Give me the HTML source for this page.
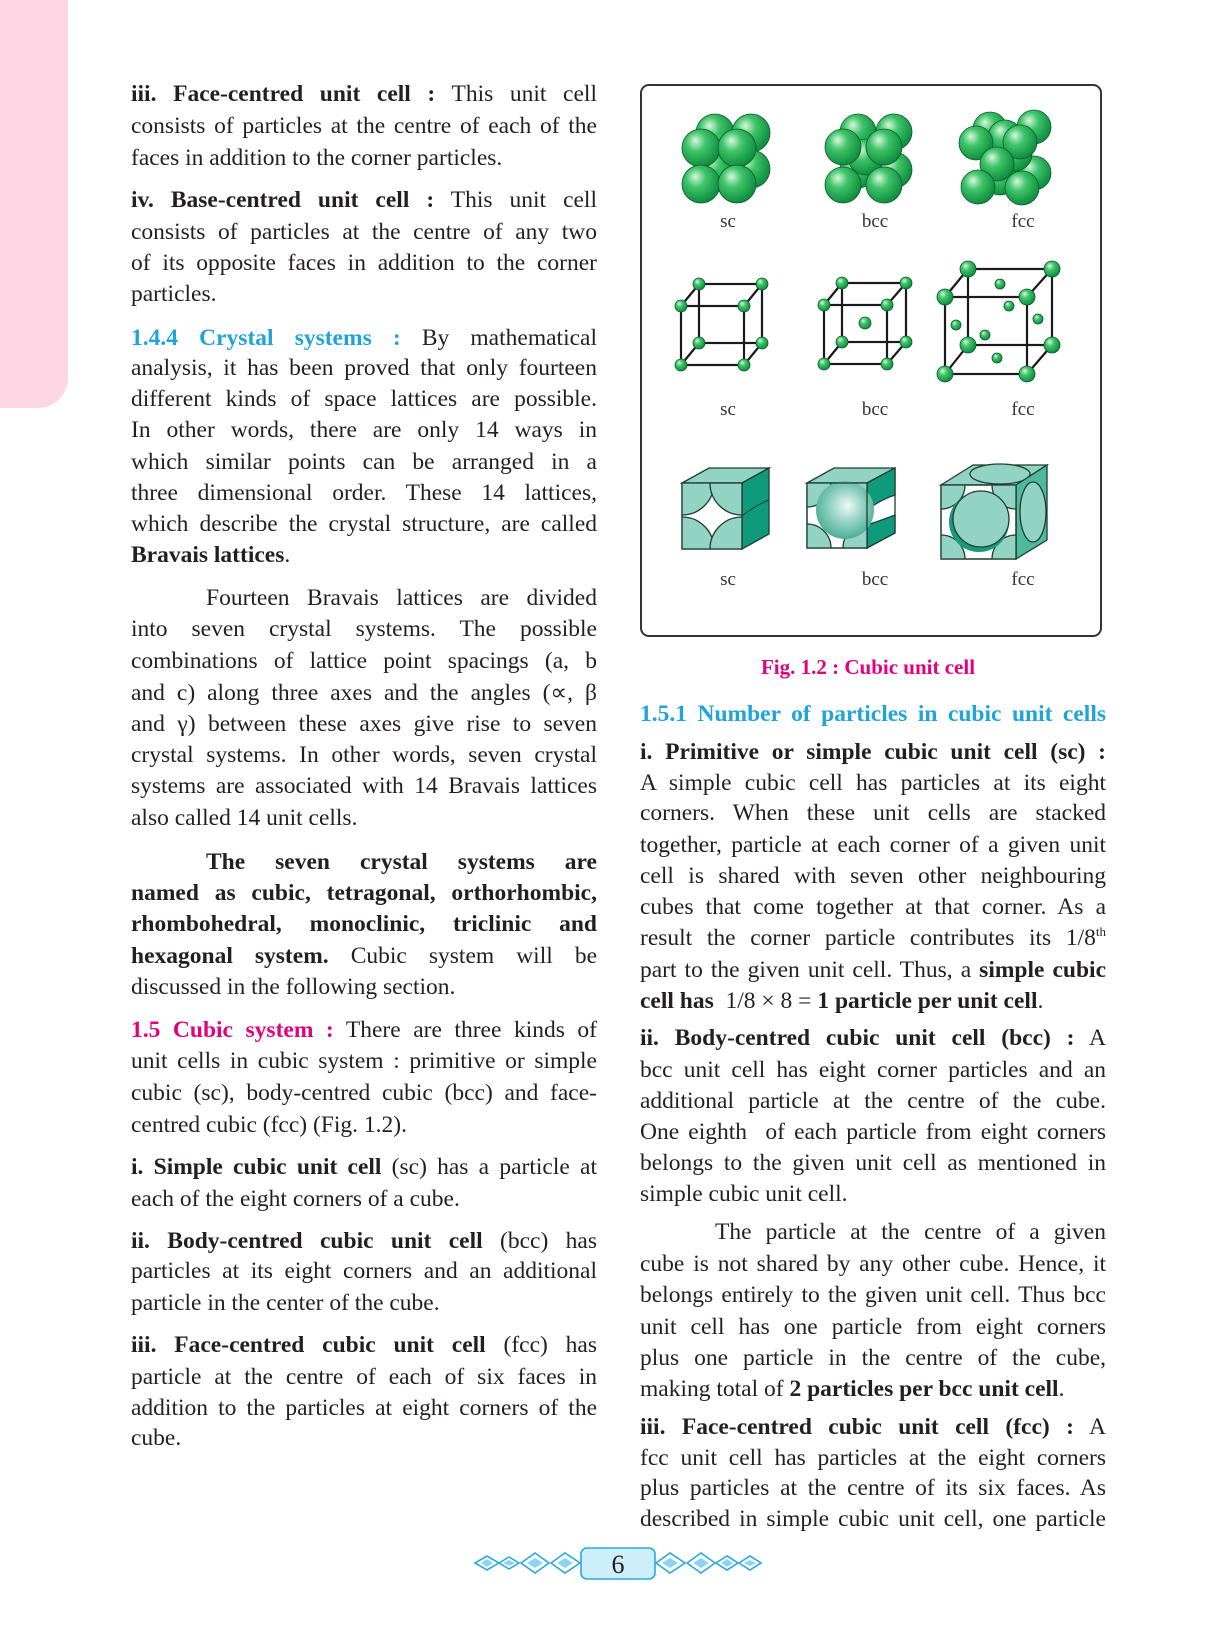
<!DOCTYPE html>
<html><head><meta charset="utf-8">
<style>
html,body{margin:0;padding:0;background:#fff;}
body{width:1229px;height:1643px;position:relative;overflow:hidden;font-family:"Liberation Serif",serif;color:#231f20;}
.ln{position:absolute;height:32px;line-height:32px;font-size:23.5px;white-space:nowrap;transform-origin:0 50%;}
.j{text-align:justify;text-align-last:justify;}
.l{text-align:left;}
.blue{color:#1fa3dc;font-weight:bold;}
.mag{color:#e4007c;font-weight:bold;}
sup{font-size:13px;line-height:0;}
#pink{position:absolute;left:0;top:0;width:68px;height:408px;background:#fdd7e4;border-bottom-right-radius:30px;}
#figbox{position:absolute;left:640px;top:84px;width:462px;height:553px;border:2px solid #333;border-radius:9px;box-sizing:border-box;}
svg{position:absolute;left:0;top:0;}
</style></head>
<body>
<div id="pink"></div>
<div id="figbox"></div>
<div id="left"></div>
<div id="right"></div>

<svg width="1229" height="1643" viewBox="0 0 1229 1643">
<defs>
<radialGradient id="gs" cx="0.4" cy="0.38" r="0.65" fx="0.35" fy="0.3">
<stop offset="0" stop-color="#d8f7dc"/><stop offset="0.4" stop-color="#3fc46a"/><stop offset="1" stop-color="#0b8a3c"/></radialGradient>
<radialGradient id="gt" cx="0.5" cy="0.45" r="0.6" fx="0.55" fy="0.42">
<stop offset="0" stop-color="#eefaf6"/><stop offset="0.5" stop-color="#8fd0bf"/><stop offset="1" stop-color="#3ea88e"/></radialGradient>
<clipPath id="c1"><rect x="682" y="483" width="60" height="66"/></clipPath>
<clipPath id="c2"><rect x="807" y="483" width="60" height="65"/></clipPath>
<clipPath id="c3"><rect x="941" y="485" width="75" height="74"/></clipPath>
</defs>
<g stroke="#0d5a2a" stroke-width="0.8" fill="url(#gs)">
<circle cx="715" cy="133" r="19"/><circle cx="751" cy="133" r="19"/><circle cx="715" cy="169" r="19"/><circle cx="751" cy="169" r="19"/>
<circle cx="701" cy="148" r="19"/><circle cx="737" cy="148" r="19"/><circle cx="701" cy="184" r="19"/><circle cx="737" cy="184" r="19"/>
<circle cx="858" cy="132" r="18"/><circle cx="894" cy="132" r="18"/><circle cx="858" cy="170" r="18"/><circle cx="894" cy="170" r="18"/>
<circle cx="866" cy="157" r="18"/>
<circle cx="843" cy="147" r="18"/><circle cx="884" cy="147" r="18"/><circle cx="843" cy="185" r="18"/><circle cx="884" cy="185" r="18"/>
<circle cx="990" cy="129" r="17"/><circle cx="1034" cy="127" r="17"/><circle cx="1034" cy="173" r="17"/><circle cx="1000" cy="178" r="17"/>
<circle cx="1015" cy="154" r="17"/><circle cx="1005" cy="137" r="17"/>
<circle cx="976" cy="143" r="17"/><circle cx="1020" cy="142" r="17"/><circle cx="997" cy="164" r="17"/><circle cx="978" cy="187" r="17"/><circle cx="1022" cy="188" r="17"/>
</g>
<g stroke="#1a1a1a" stroke-width="2.2" fill="none">
<rect x="699" y="284" width="63" height="59"/><rect x="681" y="306" width="63" height="59"/>
<path d="M681 306L699 284M744 306L762 284M681 365L699 343M744 365L762 343"/>
<rect x="842" y="283" width="64" height="59"/><rect x="824" y="305" width="63" height="59"/>
<path d="M824 305L842 283M887 305L906 283M824 364L842 342M887 364L906 342"/>
<rect x="968" y="269" width="84" height="76"/><rect x="945" y="297" width="82" height="77"/>
<path d="M945 297L968 269M1027 297L1052 269M945 374L968 345M1027 374L1052 345"/>
</g>
<g stroke="#0d5a2a" stroke-width="0.8" fill="url(#gs)">
<circle cx="699" cy="284" r="6"/><circle cx="762" cy="284" r="6"/><circle cx="699" cy="343" r="6"/><circle cx="762" cy="343" r="6"/>
<circle cx="681" cy="306" r="6"/><circle cx="744" cy="306" r="6"/><circle cx="681" cy="365" r="6"/><circle cx="744" cy="365" r="6"/>
<circle cx="842" cy="283" r="6"/><circle cx="906" cy="283" r="6"/><circle cx="842" cy="342" r="6"/><circle cx="906" cy="342" r="6"/>
<circle cx="865" cy="323" r="6"/>
<circle cx="824" cy="305" r="6"/><circle cx="887" cy="305" r="6"/><circle cx="824" cy="364" r="6"/><circle cx="887" cy="364" r="6"/>
<circle cx="968" cy="269" r="8"/><circle cx="1052" cy="269" r="8"/><circle cx="968" cy="345" r="8"/><circle cx="1052" cy="345" r="8"/>
<circle cx="1000" cy="284" r="5"/><circle cx="1009" cy="306" r="5"/><circle cx="956" cy="325" r="5"/><circle cx="1038" cy="319" r="5"/><circle cx="985" cy="335" r="5"/><circle cx="997" cy="358" r="5"/>
<circle cx="945" cy="297" r="8"/><circle cx="1027" cy="297" r="8"/><circle cx="945" cy="374" r="8"/><circle cx="1027" cy="374" r="8"/>
</g>
<g stroke="#1d3d35" stroke-width="1.3">
<polygon points="682,483 709,468 769,468 742,483" fill="#93d3c3"/>
<polygon points="742,483 769,468 769,534 742,549" fill="#109a7c"/>
<path d="M742 516 Q756 505 769 500" fill="none" stroke-width="1"/>
<rect x="682" y="483" width="60" height="66" fill="#fff"/>
<g clip-path="url(#c1)" fill="#93d3c3"><circle cx="682" cy="483" r="32"/><circle cx="742" cy="483" r="32"/><circle cx="682" cy="549" r="32"/><circle cx="742" cy="549" r="32"/></g>
<rect x="682" y="483" width="60" height="66" fill="none"/>
<polygon points="807,483 834,468 895,468 867,483" fill="#93d3c3"/>
<polygon points="867,483 895,468 895,533 867,548" fill="#fff"/>
<path d="M867 483L895 468L895 495Q880 500 867 510Z M867 548L867 525Q882 520 895 515L895 533Z" fill="#109a7c"/>
<rect x="807" y="483" width="60" height="65" fill="#fff"/>
<g clip-path="url(#c2)" fill="#93d3c3"><circle cx="807" cy="483" r="24"/><circle cx="867" cy="483" r="24"/><circle cx="807" cy="548" r="24"/><circle cx="867" cy="548" r="24"/></g>
<circle cx="845" cy="510" r="29" fill="url(#gt)" stroke="none"/>
<rect x="807" y="483" width="60" height="65" fill="none"/>
<polygon points="941,485 973,465 1047,465 1016,485" fill="#93d3c3"/>
<ellipse cx="1000" cy="474" rx="30" ry="10" fill="#93d3c3"/>
<polygon points="1016,485 1047,465 1047,540 1016,559" fill="#4fb89d"/>
<ellipse cx="1033" cy="512" rx="13" ry="30" fill="#93d3c3"/>
<rect x="941" y="485" width="75" height="74" fill="#fff"/>
<g clip-path="url(#c3)" fill="#93d3c3"><circle cx="941" cy="485" r="24"/><circle cx="1016" cy="485" r="24"/><circle cx="941" cy="559" r="24"/><circle cx="1016" cy="559" r="24"/></g>
<circle cx="979" cy="522" r="30" fill="#1a9a7c" stroke="none"/>
<circle cx="981" cy="519" r="28" fill="#93d3c3"/>
<rect x="941" y="485" width="75" height="74" fill="none"/>
</g>
<g font-family="Liberation Serif, serif" font-size="19" fill="#333" text-anchor="middle">
<text x="728" y="227">sc</text>
<text x="875" y="227">bcc</text>
<text x="1023" y="227">fcc</text>
<text x="728" y="415">sc</text>
<text x="875" y="415">bcc</text>
<text x="1023" y="415">fcc</text>
<text x="728" y="585">sc</text>
<text x="875" y="585">bcc</text>
<text x="1023" y="585">fcc</text>
</g>
<text x="868" y="674" font-family="Liberation Serif, serif" font-size="21" font-weight="bold" fill="#e4007c" text-anchor="middle">Fig. 1.2 : Cubic unit cell</text>
<g stroke="#29a8e0" stroke-width="1.6" fill="#fff">
<path d="M475 1563L487 1556L499 1563L487 1570Z M499 1563L509 1557L519 1563L509 1569Z M521 1563L535 1553L549 1563L535 1573Z M551 1563L565 1553L580 1563L565 1573Z M656 1563L670 1553L685 1563L670 1573Z M687 1563L701 1553L715 1563L701 1573Z M716 1563L727 1556L738 1563L727 1570Z M739 1563L750 1556L761 1563L750 1570Z"/>
<path d="M481 1563L487 1559L493 1563L487 1567Z M503 1563L509 1560L515 1563L509 1566Z M527 1563L535 1558L543 1563L535 1568Z M557 1563L565 1558L573 1563L565 1568Z M662 1563L670 1558L678 1563L670 1568Z M693 1563L701 1558L709 1563L701 1568Z M721 1563L727 1559L733 1563L727 1567Z M744 1563L750 1560L756 1563L750 1566Z" fill="#8ed4f2" stroke="none"/>
<rect x="581" y="1548" width="74" height="31" rx="6" fill="#cdeefb"/>
<text x="618" y="1573" font-family="Liberation Serif, serif" font-size="26" fill="#231f20" stroke="none" text-anchor="middle">6</text>
</g>
</svg>

<script>
var leftLines = [
[78,'<b>iii. Face-centred unit cell :</b> This unit cell',1,0],
[110,'consists of particles at the centre of each of the',1,0],
[142,'faces in addition to the corner particles.',0,0],
[184,'<b>iv. Base-centred unit cell :</b> This unit cell',1,0],
[216,'consists of particles at the centre of any two',1,0],
[247,'of its opposite faces in addition to the corner',1,0],
[278,'particles.',0,0],
[322,'<span class="blue">1.4.4 Crystal systems :</span> By mathematical',1,0],
[352,'analysis, it has been proved that only fourteen',1,0],
[383,'different kinds of space lattices are possible.',1,0],
[414,'In other words, there are only 14 ways in',1,0],
[446,'which similar points can be arranged in a',1,0],
[477,'three dimensional order. These 14 lattices,',1,0],
[508,'which describe the crystal structure, are called',1,0],
[539,'<b>Bravais lattices</b>.',0,0],
[582,'Fourteen Bravais lattices are divided',1,75],
[613,'into seven crystal systems. The possible',1,0],
[645,'combinations of lattice point spacings (a, b',1,0],
[677,'and c) along three axes and the angles (∝, β',1,0],
[708,'and γ) between these axes give rise to seven',1,0],
[739,'crystal systems. In other words, seven crystal',1,0],
[770,'systems are associated with 14 Bravais lattices',1,0],
[802,'also called 14 unit cells.',0,0],
[846,'<b>The seven crystal systems are</b>',1,75],
[877,'<b>named as cubic, tetragonal, orthorhombic,</b>',1,0],
[908,'<b>rhombohedral, monoclinic, triclinic and</b>',1,0],
[940,'<b>hexagonal system.</b> Cubic system will be',1,0],
[971,'discussed in the following section.',0,0],
[1014,'<span class="mag">1.5 Cubic system :</span> There are three kinds of',1,0],
[1045,'unit cells in cubic system : primitive or simple',1,0],
[1077,'cubic (sc), body-centred cubic (bcc) and face-',1,0],
[1109,'centred cubic (fcc) (Fig. 1.2).',0,0],
[1151,'<b>i. Simple cubic unit cell</b> (sc) has a particle at',1,0],
[1183,'each of the eight corners of a cube.',0,0],
[1225,'<b>ii. Body-centred cubic unit cell</b> (bcc) has',1,0],
[1255,'particles at its eight corners and an additional',1,0],
[1287,'particle in the center of the cube.',0,0],
[1329,'<b>iii. Face-centred cubic unit cell</b> (fcc) has',1,0],
[1361,'particle at the centre of each of six faces in',1,0],
[1392,'addition to the particles at eight corners of the',1,0],
[1422,'cube.',0,0]
];
var rightLines = [
[698,'<span class="blue">1.5.1 Number of particles in cubic unit cells</span>',1,0],
[736,'<b>i. Primitive or simple cubic unit cell (sc) :</b>',1,0],
[767,'A simple cubic cell has particles at its eight',1,0],
[797,'corners. When these unit cells are stacked',1,0],
[829,'together, particle at each corner of a given unit',1,0],
[860,'cell is shared with seven other neighbouring',1,0],
[891,'cubes that come together at that corner. As a',1,0],
[922,'result the corner particle contributes its 1/8<sup>th</sup>',1,0],
[954,'part to the given unit cell. Thus, a <b>simple cubic</b>',1,0],
[985,'<b>cell has</b>&nbsp; 1/8 × 8 = <b>1 particle per unit cell</b>.',0,0],
[1022,'<b>ii. Body-centred cubic unit cell (bcc) :</b> A',1,0],
[1054,'bcc unit cell has eight corner particles and an',1,0],
[1085,'additional particle at the centre of the cube.',1,0],
[1116,'One eighth&nbsp; of each particle from eight corners',1,0],
[1147,'belongs to the given unit cell as mentioned in',1,0],
[1178,'simple cubic unit cell.',0,0],
[1216,'The particle at the centre of a given',1,75],
[1248,'cube is not shared by any other cube. Hence, it',1,0],
[1279,'belongs entirely to the given unit cell. Thus bcc',1,0],
[1311,'unit cell has one particle from eight corners',1,0],
[1342,'plus one particle in the centre of the cube,',1,0],
[1373,'making total of <b>2 particles per bcc unit cell</b>.',0,0],
[1411,'<b>iii. Face-centred cubic unit cell (fcc) :</b> A',1,0],
[1442,'fcc unit cell has particles at the eight corners',1,0],
[1472,'plus particles at the centre of its six faces. As',1,0],
[1503,'described in simple cubic unit cell, one particle',1,0]
];
function build(lines, x0, w, host, prefix){
  for (var i=0;i<lines.length;i++){
    var L=lines[i];
    var d=document.createElement('div');
    d.className='ln '+(L[2]?'j':'l');
    
    
    d.style.left=(x0+L[3])+'px';
    d.style.top=L[0]+'px';
    d.style.width=(w-L[3])+'px';
    d.innerHTML=L[1];
    host.appendChild(d);
    if(d.scrollWidth>d.clientWidth+1){
      var s=d.clientWidth/d.scrollWidth;
      d.style.width=((w-L[3])/s)+'px';
      d.style.transform='scaleX('+s+')';
    }
  }
}
build(leftLines,131,466,document.getElementById('left'),'left');
build(rightLines,640,466,document.getElementById('right'),'right');
</script>
</body></html>
